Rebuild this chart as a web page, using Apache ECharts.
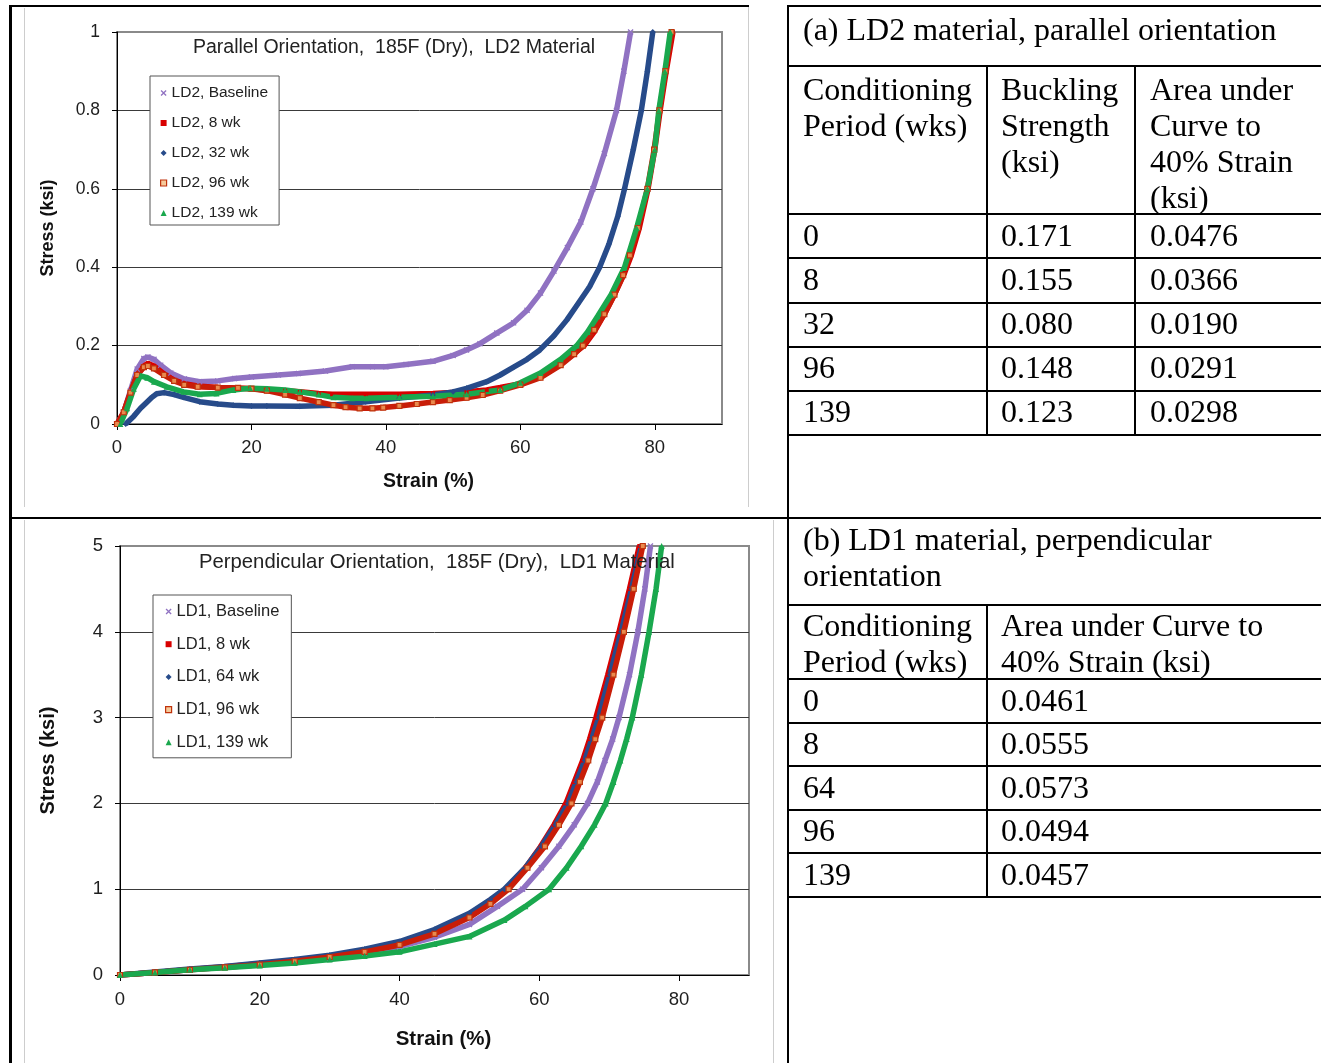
<!DOCTYPE html>
<html>
<head>
<meta charset="utf-8">
<title>Stress-strain curves, LD2 and LD1 material</title>
<script src="https://cdn.jsdelivr.net/npm/echarts@6/dist/echarts.min.js"></script>
<style>
  html, body { margin: 0; padding: 0; background: #fff; }
  body { width: 1321px; height: 1063px; position: relative; overflow: hidden; }
  #chart { position: absolute; left: 0; top: 0; width: 1321px; height: 1063px; }
  .rule { position: absolute; background: #000; }
  .edge { position: absolute; background: #cdcdcd; }
  .cell {
    position: absolute;
    font-family: "Liberation Serif", "Times New Roman", serif;
    font-size: 32px;
    line-height: 36px;
    color: #000;
    white-space: nowrap;
  }
</style>
</head>
<body>
<div id="chart"></div>
<div id="layout"></div>
<script>
// ---------- (a) LD2 material, parallel orientation : stress (ksi) vs strain (%) ----------
const ld2Baseline = [[0,0],[1,0.03],[2,0.085],[3,0.14],[4,0.167],[4.6,0.171],[5.5,0.165],[6.5,0.15],[8,0.13],[10,0.115],[12.3,0.108],[15,0.11],[17.5,0.116],[20,0.12],[24,0.125],[27,0.129],[31,0.135],[35,0.146],[38,0.146],[40,0.146],[43,0.152],[47,0.16],[50,0.175],[52,0.189],[54,0.205],[56.5,0.232],[59,0.258],[61,0.29],[63,0.334],[65,0.39],[67,0.45],[69,0.515],[70.8,0.6],[72.5,0.69],[74.3,0.8],[75.4,0.9],[76.4,1.0]];
const ld2Wk8 = [[0,0],[1,0.03],[2,0.08],[3,0.125],[4,0.148],[4.6,0.155],[5.5,0.148],[7,0.128],[8.5,0.112],[10,0.103],[12,0.097],[15,0.093],[18,0.091],[20,0.09],[22.3,0.087],[25,0.085],[27.2,0.082],[30,0.078],[32,0.076],[37,0.076],[42,0.076],[47,0.078],[52,0.082],[55,0.087],[57,0.093],[60,0.103],[63,0.12],[66,0.152],[68,0.18],[69.5,0.2],[71,0.235],[72.5,0.28],[74,0.33],[75.5,0.385],[76.5,0.43],[77.7,0.5],[79,0.6],[80,0.7],[80.8,0.8],[81.7,0.9],[82.7,1.0]];
const ld2Wk32 = [[1.3,0],[2.5,0.02],[3.5,0.04],[4.4,0.055],[5.2,0.068],[5.9,0.077],[7,0.08],[8.5,0.075],[9.9,0.068],[12.3,0.057],[15,0.051],[17.3,0.048],[20,0.046],[22.3,0.046],[27.2,0.045],[32.2,0.048],[37,0.057],[42,0.066],[47,0.074],[50,0.082],[52,0.091],[55,0.108],[57,0.125],[59,0.145],[61,0.165],[62.9,0.189],[65,0.225],[66.9,0.265],[68.5,0.305],[70.3,0.35],[71.8,0.4],[73.2,0.46],[74.5,0.53],[75.5,0.6],[76.8,0.7],[78,0.8],[78.9,0.9],[79.7,1.0]];
const ld2Wk96 = [[0,0],[1,0.03],[2,0.08],[3,0.125],[4,0.145],[4.6,0.148],[5.5,0.142],[7,0.125],[8.5,0.11],[10,0.1],[12,0.095],[15,0.093],[18,0.092],[20,0.09],[22.3,0.085],[25,0.075],[27.2,0.066],[30,0.056],[32.2,0.048],[34,0.043],[36.1,0.04],[38,0.04],[39.6,0.042],[42,0.046],[44.6,0.051],[47,0.056],[49.5,0.061],[52,0.067],[54.4,0.074],[57,0.085],[60,0.1],[63,0.118],[66,0.15],[68,0.178],[69.3,0.2],[71,0.24],[72.5,0.28],[74,0.33],[75.3,0.38],[76.3,0.43],[77.5,0.5],[78.9,0.6],[79.9,0.7],[80.7,0.8],[81.6,0.9],[82.5,1.0]];
const ld2Wk139 = [[0.5,0],[1.5,0.04],[2.5,0.09],[3.5,0.123],[4.5,0.118],[5.5,0.108],[7.4,0.095],[9.9,0.082],[12.3,0.076],[14.8,0.078],[17.3,0.087],[19.8,0.091],[22.3,0.09],[25,0.087],[27.2,0.082],[30,0.075],[32.2,0.068],[35,0.066],[37.1,0.066],[42,0.068],[47,0.071],[52,0.076],[57,0.087],[60,0.105],[63,0.13],[66,0.165],[68.4,0.2],[70,0.235],[71.5,0.275],[73.5,0.33],[75.5,0.4],[77.3,0.5],[78.9,0.6],[80,0.7],[80.6,0.8],[81.5,0.9],[82.3,1.0]];

// ---------- (b) LD1 material, perpendicular orientation ----------
const ld1Baseline = [[0,0],[5,0.03],[10,0.06],[15,0.09],[20,0.12],[25,0.16],[30,0.2],[35,0.26],[40,0.33],[45,0.44],[50,0.59],[54,0.8],[57.6,1.0],[60.3,1.25],[62.8,1.5],[65,1.75],[66.9,2.0],[68.3,2.25],[69.4,2.5],[70.5,2.75],[71.4,3.0],[72.9,3.5],[74.1,4.0],[75.1,4.5],[75.9,5.0]];
const ld1Wk8 = [[0,0],[5,0.03],[10,0.065],[15,0.095],[20,0.13],[25,0.17],[30,0.22],[35,0.29],[40,0.37],[45,0.5],[50,0.7],[53,0.87],[55.2,1.0],[58,1.25],[60.2,1.5],[62.1,1.75],[63.8,2.0],[65,2.25],[66.2,2.5],[67.2,2.75],[68.1,3.0],[69.8,3.5],[71.4,4.0],[72.9,4.5],[74.3,5.0]];
const ld1Wk64 = [[0,0],[5,0.035],[10,0.07],[15,0.1],[20,0.14],[25,0.18],[30,0.23],[35,0.3],[40,0.39],[45,0.53],[50,0.72],[53,0.88],[55,1.0],[58,1.25],[60.3,1.5],[62.3,1.75],[64.1,2.0],[65.3,2.25],[66.5,2.5],[67.5,2.75],[68.5,3.0],[70.1,3.5],[71.7,4.0],[73.2,4.5],[74.6,5.0]];
const ld1Wk96 = [[0,0],[5,0.03],[10,0.06],[15,0.09],[20,0.12],[25,0.16],[30,0.21],[35,0.27],[40,0.35],[45,0.48],[50,0.67],[53,0.83],[55.6,1.0],[58.3,1.25],[60.8,1.5],[62.8,1.75],[64.6,2.0],[65.8,2.25],[67,2.5],[68,2.75],[69,3.0],[70.6,3.5],[72.1,4.0],[73.5,4.5],[74.8,5.0]];
const ld1Wk139 = [[0,0],[5,0.03],[10,0.06],[15,0.085],[20,0.11],[25,0.14],[30,0.18],[35,0.22],[40,0.27],[45,0.36],[50,0.45],[55,0.64],[58,0.8],[61.4,1.0],[63.9,1.25],[66,1.5],[67.9,1.75],[69.5,2.0],[70.6,2.25],[71.6,2.5],[72.5,2.75],[73.3,3.0],[74.6,3.5],[75.7,4.0],[76.7,4.5],[77.5,5.0]];

// axis tick labels
const strainTicks = [0, 20, 40, 60, 80];

// table contents
const captionA = '(a) LD2 material, parallel orientation';
const headerA = ['Conditioning<br>Period (wks)', 'Buckling<br>Strength<br>(ksi)', 'Area under<br>Curve to<br>40% Strain<br>(ksi)'];
const periodsA = ['0', '8', '32', '96', '139'];
const bucklingA = ['0.171', '0.155', '0.080', '0.148', '0.123'];
const areaA = ['0.0476', '0.0366', '0.0190', '0.0291', '0.0298'];

const captionB = '(b) LD1 material, perpendicular<br>orientation';
const headerB = ['Conditioning<br>Period (wks)', 'Area under Curve to<br>40% Strain (ksi)'];
const periodsB = ['0', '8', '64', '96', '139'];
const areaB = ['0.0461', '0.0555', '0.0573', '0.0494', '0.0457'];

// ---------- page frame and tables ----------
const layout = document.getElementById('layout');
function box(cls, x, y, w, h) {
  const d = document.createElement('div');
  d.className = cls;
  d.style.left = x + 'px'; d.style.top = y + 'px';
  d.style.width = w + 'px'; d.style.height = h + 'px';
  layout.appendChild(d);
}
function text(x, centerY, html) {
  const d = document.createElement('div');
  d.className = 'cell';
  d.style.left = x + 'px';
  d.style.top = (centerY - 18) + 'px';
  d.innerHTML = html;
  layout.appendChild(d);
}

// outer frame
box('rule', 9, 5, 3, 1058);
box('rule', 9, 5, 740, 2);
box('rule', 787, 5, 534, 2);
box('rule', 787, 5, 2, 1058);
box('rule', 9, 517, 1312, 2);
// chart picture edges
box('edge', 24, 8, 1, 499);
box('edge', 748, 7, 1, 500);
box('edge', 24, 520, 1, 543);
box('edge', 773, 520, 1, 543);

// table (a)
[65, 213, 257, 302, 346, 390, 434].forEach(y => box('rule', 787, y, 534, 2));
box('rule', 986, 65, 2, 371);
box('rule', 1134, 65, 2, 371);
const colX = [803, 1001, 1150];
text(colX[0], 29, captionA);
headerA.forEach((h, i) => text(colX[i], 88.5, h));
const rowCenterA = [235, 279, 323, 367, 411];
periodsA.forEach((p, i) => {
  text(colX[0], rowCenterA[i], p);
  text(colX[1], rowCenterA[i], bucklingA[i]);
  text(colX[2], rowCenterA[i], areaA[i]);
});

// table (b)
[604, 678, 722, 765, 809, 852, 896].forEach(y => box('rule', 787, y, 534, 2));
box('rule', 986, 604, 2, 294);
text(colX[0], 538.5, captionB);
headerB.forEach((h, i) => text(colX[i], 625, h));
const rowCenterB = [700, 743, 786.5, 830, 873.5];
periodsB.forEach((p, i) => {
  text(colX[0], rowCenterB[i], p);
  text(colX[1], rowCenterB[i], areaB[i]);
});

// ---------- charts ----------
const SANS = '"Liberation Sans", Arial, Helvetica, sans-serif';
const CROSS = 'path://M0,1.5L1.5,0L5,3.5L8.5,0L10,1.5L6.5,5L10,8.5L8.5,10L5,6.5L1.5,10L0,8.5L3.5,5Z';

const styles = {
  base:  { symbol: CROSS,      color: '#9072c2', line: '#9072c2', size: 6 },
  wk8:   { symbol: 'rect',     color: '#d80000', line: '#d80000', size: 4 },
  mid:   { symbol: 'diamond',  color: '#274b8a', line: '#274b8a', size: 6 },
  wk96:  { symbol: 'rect',     color: '#e98a4e', line: '#c81d08', size: 5, border: '#c0330c', legendFill: '#f6c99a' },
  wk139: { symbol: 'triangle', color: '#1aa84e', line: '#1aa84e', size: 6 }
};

function curve(name, data, idx, st) {
  return {
    name: name,
    type: 'line',
    xAxisIndex: idx,
    yAxisIndex: idx,
    data: data,
    symbol: st.symbol,
    symbolSize: st.size,
    showSymbol: true,
    clip: true,
    lineStyle: { color: st.line, width: 5.5 },
    itemStyle: st.border
      ? { color: st.color, borderColor: st.border, borderWidth: 1.2 }
      : { color: st.color },
    emphasis: { disabled: true }
  };
}

function legendItem(name, st) {
  const item = { name: name, icon: st.symbol };
  if (st.border) item.itemStyle = { color: st.legendFill, borderColor: st.border, borderWidth: 1.2 };
  return item;
}

function xAxis(idx, labelSize, labelMargin, nameSize, nameGap) {
  return {
    gridIndex: idx,
    type: 'value',
    min: 0, max: 90, interval: 20,
    axisLine: { show: true, lineStyle: { color: '#000', width: 1 } },
    axisTick: { show: true, inside: false, length: 6, lineStyle: { color: '#000' }, customValues: strainTicks },
    axisLabel: { customValues: strainTicks, fontFamily: SANS, fontSize: labelSize, color: '#1e1e1e', margin: labelMargin },
    splitLine: { show: false },
    name: 'Strain (%)',
    nameLocation: 'middle',
    nameGap: nameGap,
    nameTextStyle: { fontFamily: SANS, fontWeight: 'bold', fontSize: nameSize, color: '#111', padding: [0, 0, 0, 18] }
  };
}

function yAxis(idx, max, step, labelSize, labelMargin, nameSize, nameGap) {
  return {
    gridIndex: idx,
    type: 'value',
    min: 0, max: max, interval: step,
    axisLine: { show: true, lineStyle: { color: '#000', width: 1 } },
    axisTick: { show: true, inside: false, length: 5, lineStyle: { color: '#000' } },
    axisLabel: { fontFamily: SANS, fontSize: labelSize, color: '#1e1e1e', margin: labelMargin },
    splitLine: { show: true, showMinLine: false, showMaxLine: false, lineStyle: { color: '#3a3a3a', width: 1 } },
    name: 'Stress (ksi)',
    nameLocation: 'middle',
    nameGap: nameGap,
    nameTextStyle: { fontFamily: SANS, fontWeight: 'bold', fontSize: nameSize, color: '#111' }
  };
}

const namesLD2 = ['LD2, Baseline', 'LD2, 8 wk', 'LD2, 32 wk', 'LD2, 96 wk', 'LD2, 139 wk'];
const namesLD1 = ['LD1, Baseline', 'LD1, 8 wk', 'LD1, 64 wk', 'LD1, 96 wk', 'LD1, 139 wk'];
const styleOrder = [styles.base, styles.wk8, styles.mid, styles.wk96, styles.wk139];
const dataLD2 = [ld2Baseline, ld2Wk8, ld2Wk32, ld2Wk96, ld2Wk139];
const dataLD1 = [ld1Baseline, ld1Wk8, ld1Wk64, ld1Wk96, ld1Wk139];

const chart = echarts.init(document.getElementById('chart'), null, { renderer: 'canvas' });
chart.setOption({
  animation: false,
  textStyle: { fontFamily: SANS },
  title: [
    {
      text: 'Parallel Orientation,  185F (Dry),  LD2 Material',
      left: 193, top: 38, padding: 0,
      textStyle: { fontFamily: SANS, fontSize: 19.5, fontWeight: 'normal', color: '#222', lineHeight: 20 }
    },
    {
      text: 'Perpendicular Orientation,  185F (Dry),  LD1 Material',
      left: 199, top: 552, padding: 0,
      textStyle: { fontFamily: SANS, fontSize: 20.3, fontWeight: 'normal', color: '#222', lineHeight: 21 }
    }
  ],
  legend: [
    {
      data: namesLD2.map((n, i) => legendItem(n, styleOrder[i])),
      orient: 'vertical',
      left: 150, top: 76,
      padding: [9, 11, 4, 10],
      itemWidth: 6, itemHeight: 6, itemGap: 14,
      backgroundColor: '#fff', borderColor: '#555', borderWidth: 1,
      selectedMode: false,
      textStyle: { fontFamily: SANS, fontSize: 15.5, lineHeight: 16, color: '#222' }
    },
    {
      data: namesLD1.map((n, i) => legendItem(n, styleOrder[i])),
      orient: 'vertical',
      left: 153, top: 595,
      padding: [8, 12, 7, 12],
      itemWidth: 6, itemHeight: 6, itemGap: 15.7,
      backgroundColor: '#fff', borderColor: '#555', borderWidth: 1,
      selectedMode: false,
      textStyle: { fontFamily: SANS, fontSize: 16.5, lineHeight: 17, color: '#222' }
    }
  ],
  grid: [
    { left: 117, top: 32, width: 605, height: 392, show: true, borderColor: '#8a8a8a', borderWidth: 2, backgroundColor: 'transparent' },
    { left: 120, top: 546, width: 629, height: 429, show: true, borderColor: '#8a8a8a', borderWidth: 2, backgroundColor: 'transparent' }
  ],
  xAxis: [
    xAxis(0, 18.5, 14.5, 19.5, 47.5),
    xAxis(1, 18.5, 15.5, 20.5, 54)
  ],
  yAxis: [
    yAxis(0, 1, 0.2, 17.5, 17, 18, 60),
    yAxis(1, 5, 1, 18.5, 17, 20, 62)
  ],
  series: [
    ...dataLD2.map((d, i) => curve(namesLD2[i], d, 0, styleOrder[i])),
    ...dataLD1.map((d, i) => curve(namesLD1[i], d, 1, styleOrder[i]))
  ]
});
</script>
</body>
</html>
